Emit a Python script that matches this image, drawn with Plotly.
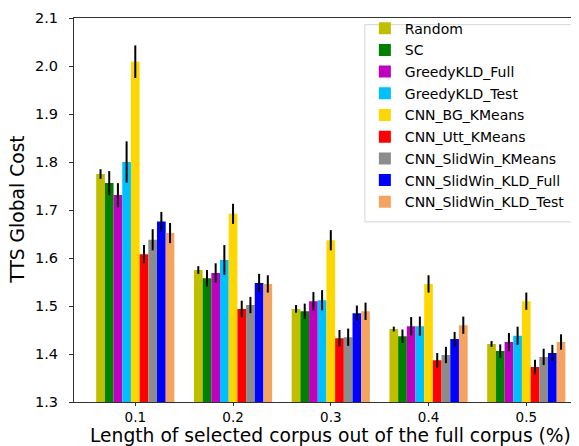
import plotly.graph_objects as go

categories = ["0.1", "0.2", "0.3", "0.4", "0.5"]
series_names = ["Random", "SC", "GreedyKLD_Full", "GreedyKLD_Test", "CNN_BG_KMeans",
                "CNN_Utt_KMeans", "CNN_SlidWin_KMeans", "CNN_SlidWin_KLD_Full", "CNN_SlidWin_KLD_Test"]

random_vals = [1.775, 1.575, 1.494, 1.452, 1.421]
sc_vals = [1.756, 1.558, 1.489, 1.437, 1.406]
greedy_full_vals = [1.731, 1.569, 1.510, 1.458, 1.425]
greedy_test_vals = [1.800, 1.596, 1.512, 1.458, 1.438]
cnn_bg_vals = [2.009, 1.692, 1.637, 1.546, 1.510]
cnn_utt_vals = [1.608, 1.494, 1.433, 1.387, 1.373]
cnn_slid_km_vals = [1.638, 1.502, 1.435, 1.398, 1.394]
cnn_slid_kld_full_vals = [1.676, 1.548, 1.485, 1.431, 1.402]
cnn_slid_kld_test_vals = [1.652, 1.546, 1.489, 1.460, 1.425]

random_err = [0.010, 0.008, 0.008, 0.005, 0.006]
sc_err = [0.025, 0.017, 0.016, 0.014, 0.014]
greedy_full_err = [0.025, 0.020, 0.019, 0.019, 0.019]
greedy_test_err = [0.043, 0.031, 0.021, 0.020, 0.019]
cnn_bg_err = [0.034, 0.021, 0.021, 0.018, 0.018]
cnn_utt_err = [0.019, 0.017, 0.017, 0.015, 0.015]
cnn_slid_km_err = [0.022, 0.017, 0.018, 0.017, 0.017]
cnn_slid_kld_full_err = [0.020, 0.019, 0.016, 0.015, 0.017]
cnn_slid_kld_test_err = [0.021, 0.018, 0.018, 0.018, 0.016]

y_ticks = [1.3, 1.4, 1.5, 1.6, 1.7, 1.8, 1.9, 2.0, 2.1]

values = [random_vals, sc_vals, greedy_full_vals, greedy_test_vals, cnn_bg_vals,
          cnn_utt_vals, cnn_slid_km_vals, cnn_slid_kld_full_vals, cnn_slid_kld_test_vals]
errors = [random_err, sc_err, greedy_full_err, greedy_test_err, cnn_bg_err,
          cnn_utt_err, cnn_slid_km_err, cnn_slid_kld_full_err, cnn_slid_kld_test_err]
colors = ["#bfbf00", "#008000", "#bf00bf", "#00bfff", "#ffd700",
          "#ff0000", "#8c8c8c", "#0000ff", "#f4a460"]

FONT = "DejaVu Sans"
fig = go.Figure()
for i, (name, v, e, c) in enumerate(zip(series_names, values, errors, colors)):
    fig.add_trace(go.Bar(
        x=categories, y=v, name=name, marker=dict(color=c, line=dict(width=0)),
        error_y=dict(type="data", array=e, color="black", thickness=2, width=0),
        legendgroup=f"g{i}",
    ))

fig.update_layout(
    width=579, height=446,
    margin=dict(l=66, r=0, t=10, b=52),
    plot_bgcolor="white", paper_bgcolor="white",
    barmode="group", bargap=0.2, bargroupgap=0,
    font=dict(family=FONT, color="black"),
    showlegend=True,
    legend=dict(
        x=0.567, y=1.014, xanchor="left", yanchor="top",
        bgcolor="rgba(0,0,0,0)", borderwidth=0,
        font=dict(family=FONT, size=14, color="black"),
        tracegroupgap=0.5,
    ),
    xaxis=dict(
        type="category", range=[-0.627, 4.621],
        showline=True, linecolor="#333333", linewidth=1.2, mirror=True,
        ticks="outside", ticklen=3, tickcolor="#333333",
        tickfont=dict(size=13.5), showgrid=False,
    ),
    yaxis=dict(
        range=[1.3, 2.1], tickvals=y_ticks, ticktext=[f"{t:.1f}" for t in y_ticks],
        showline=True, linecolor="#333333", linewidth=1.2,
        ticks="outside", ticklen=4, tickcolor="#333333",
        tickfont=dict(size=14.5), showgrid=False, zeroline=False,
        ticklabelstandoff=8,
    ),
    shapes=[dict(
        type="rect", xref="paper", yref="paper",
        x0=0.567, x1=0.988, y0=0.469, y1=0.9826,
        line=dict(color="#d5d5d5", width=1), fillcolor="rgba(255,255,255,0.8)",
        layer="above",
    )],
    annotations=[
        dict(text="TTS Global Cost", textangle=-90, showarrow=False,
             xref="paper", yref="paper", x=-0.109, y=0.501,
             xanchor="center", yanchor="middle", font=dict(size=18.7)),
        dict(text="Length of selected corpus out of the full corpus (%)", showarrow=False,
             xref="paper", yref="paper", x=0.5, y=-0.088,
             xanchor="center", yanchor="middle", font=dict(size=18.7)),
    ],
)

fig.write_html("out.html")
